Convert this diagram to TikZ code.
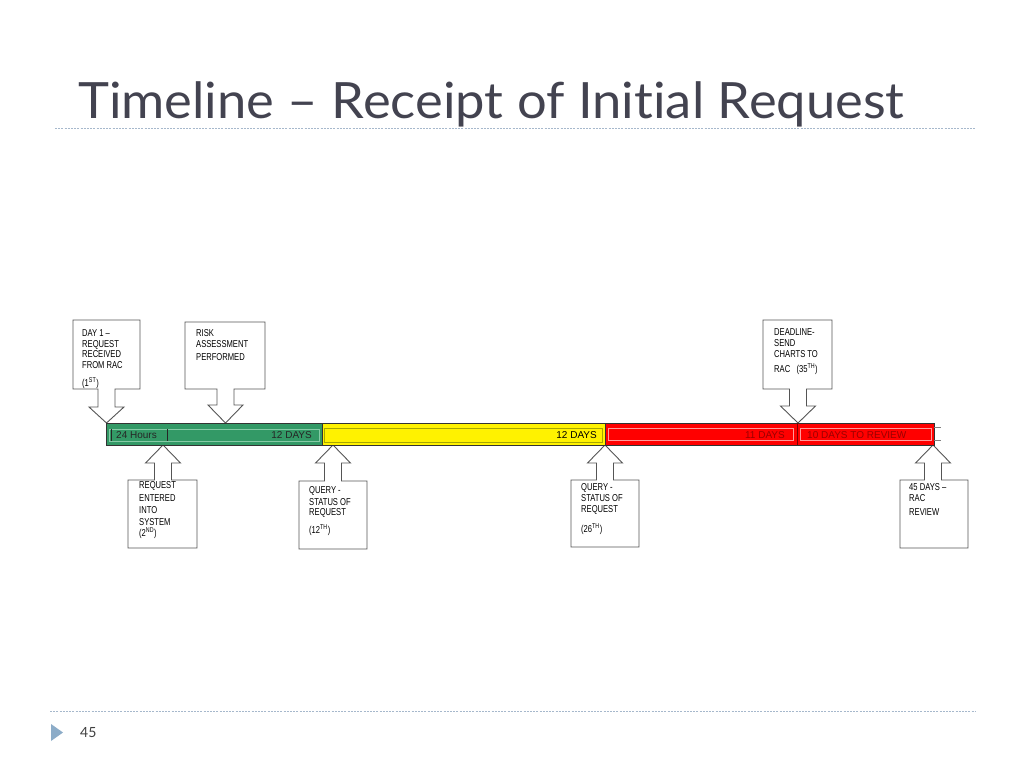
\documentclass[tikz,border=0pt]{standalone}
\usepackage{fontspec}
\setmainfont{Liberation Sans}
\newfontfamily\titlefont[FakeStretch=1.05,Ligatures={NoCommon}]{Lato}
\newfontfamily\pagefont{Lato}
\newfontfamily\calfont[FakeStretch=0.76]{Liberation Sans}
\newfontfamily\barfont{Liberation Sans}
\definecolor{titlegray}{HTML}{434350}
\definecolor{rulecol}{HTML}{A6B8CC}
\definecolor{tricol}{HTML}{8CACC8}
\definecolor{bargreen}{HTML}{339966}
\definecolor{greenline}{HTML}{86CBA6}
\definecolor{olive}{HTML}{A6A600}
\definecolor{pinkline}{HTML}{FF9A9A}
\definecolor{darkred}{HTML}{9A0000}
\definecolor{calgray}{HTML}{555555}
\newcommand{\dcall}[7]{% l t r b cx ystem ytip
  \draw[callout] (#1,#2) -- (#3,#2) -- (#3,#4) -- (#5+8.5,#4) -- (#5+8.5,#6) -- (#5+17.5,#6) -- (#5,#7) -- (#5-17.5,#6) -- (#5-8.5,#6) -- (#5-8.5,#4) -- (#1,#4) -- cycle;}
\newcommand{\ucall}[7]{% l t r b cx yhead ytip
  \draw[callout] (#1,#4) -- (#3,#4) -- (#3,#2) -- (#5+8.5,#2) -- (#5+8.5,#6) -- (#5+17.5,#6) -- (#5,#7) -- (#5-17.5,#6) -- (#5-8.5,#6) -- (#5-8.5,#2) -- (#1,#2) -- cycle;}
\begin{document}
\begin{tikzpicture}[x=1pt,y=-1pt,
  callout/.style={draw=calgray,fill=white,line width=0.9pt,line join=miter},
  cline/.style={anchor=base west,inner sep=0pt,font=\calfont\fontsize{10}{11}\selectfont,text=black},
  bartext/.style={inner sep=0pt,font=\barfont\fontsize{10}{12}\selectfont},
  rulestyle/.style={draw=rulecol,line width=0.8pt,dash pattern=on 2pt off 1.2pt}]
\useasboundingbox (0,0) rectangle (1024,768);
\fill[white] (0,0) rectangle (1024,768);
% title
\node[anchor=base west,inner sep=0pt,text=titlegray,font=\titlefont\fontsize{50}{60}\selectfont] (title) at (78,118) {Timeline – Receipt of Initial Request};
\draw[rulestyle] (55,128) -- (975,128);
% footer
\draw[rulestyle] (50,711) -- (975,711);
\fill[tricol] (51,724) -- (63,732.5) -- (51,741) -- cycle;
\node[anchor=base west,inner sep=0pt,text=black!75,font=\pagefont\fontsize{14}{16}\selectfont] (pnum) at (80,737) {45};
% callouts above
\dcall{73}{320}{140}{389}{106.5}{407}{423}
\dcall{185}{322}{265}{389}{225.5}{405}{423}
\dcall{763}{320}{832}{389}{798}{406}{423}
% callouts below
\ucall{128}{480}{197}{548}{163}{463}{445}
\ucall{299}{481}{367}{549}{333}{463}{445}
\ucall{571}{480}{639}{547}{605}{463}{445}
\ucall{900}{480}{968}{548}{933}{463}{445}
% bar
\draw[fill=bargreen,draw=black!80,line width=0.8pt] (106,423) rectangle (322,445);
\draw[fill=yellow,draw=black!80,line width=0.8pt] (322,423) rectangle (605,445);
\draw[fill=red,draw=black!80,line width=0.8pt] (605,423) rectangle (934,445);
\draw[darkred!80!black,line width=0.9pt] (797.5,423) -- (797.5,445);
% inner outlines
\draw[greenline,line width=0.7pt] (109,429.5) rectangle (319,441);
\draw[olive,line width=0.7pt] (324.5,428) rectangle (602.5,442);
\draw[pinkline,line width=0.7pt] (608,428) rectangle (793,440);
\draw[pinkline,line width=0.7pt] (800,428) rectangle (931.5,440);
\draw[black!50,line width=0.6pt] (934,427) -- (941,427) (934,440) -- (941,440);
% bar texts
\draw[black!85,line width=0.8pt] (111,429) -- (111,441) (167,429) -- (167,441);
\node[bartext,anchor=west,text=black!85] (t24) at (116,435.5) {24 Hours};
\node[bartext,anchor=east,text=black!85] (tg) at (312,435.5) {12 DAYS};
\node[bartext,anchor=east,text=black] (ty) at (597,435.5) {12 DAYS};
\node[bartext,anchor=east,text=darkred] (tr1) at (785,435.5) {11 DAYS};
\node[bartext,anchor=west,text=darkred] (tr2) at (807,435.5) {10 DAYS TO REVIEW};
% callout 1 text
\node[cline] (a1) at (82,336.5) {DAY 1 –};
\node[cline] (a2) at (82,347) {REQUEST};
\node[cline] (a3) at (82,357.5) {RECEIVED};
\node[cline] (a4) at (82,368) {FROM RAC};
\node[cline] (a5) at (82,386.5) {(1\textsuperscript{ST})};
% callout 2 text
\node[cline] (b1) at (196,336.5) {RISK};
\node[cline] (b2) at (196,347) {ASSESSMENT};
\node[cline] (b3) at (196,360.5) {PERFORMED};
% callout 7 text
\node[cline] (g1) at (774,335.5) {DEADLINE-};
\node[cline] (g2) at (774,346.5) {SEND};
\node[cline] (g3) at (774,357.5) {CHARTS TO};
\node[cline] (g4) at (774,372.5) {RAC\ \ \ (35\textsuperscript{TH})};
% callout 3 text
\node[cline] (c1) at (139,488.5) {REQUEST};
\node[cline] (c2) at (139,501) {ENTERED};
\node[cline] (c3) at (139,513) {INTO};
\node[cline] (c4) at (139,525) {SYSTEM};
\node[cline] (c5) at (139,536) {(2\textsuperscript{ND})};
% callout 4 text
\node[cline] (d1) at (309,493.5) {QUERY -};
\node[cline] (d2) at (309,505.5) {STATUS OF};
\node[cline] (d3) at (309,515.5) {REQUEST};
\node[cline] (d4) at (309,533.5) {(12\textsuperscript{TH})};
% callout 5 text
\node[cline] (e1) at (581,490.5) {QUERY -};
\node[cline] (e2) at (581,501.5) {STATUS OF};
\node[cline] (e3) at (581,512.5) {REQUEST};
\node[cline] (e4) at (581,532.5) {(26\textsuperscript{TH})};
% callout 6 text
\node[cline] (f1) at (909,490.5) {45 DAYS –};
\node[cline] (f2) at (909,501.5) {RAC};
\node[cline] (f3) at (909,515.5) {REVIEW};
\end{tikzpicture}
\end{document}
